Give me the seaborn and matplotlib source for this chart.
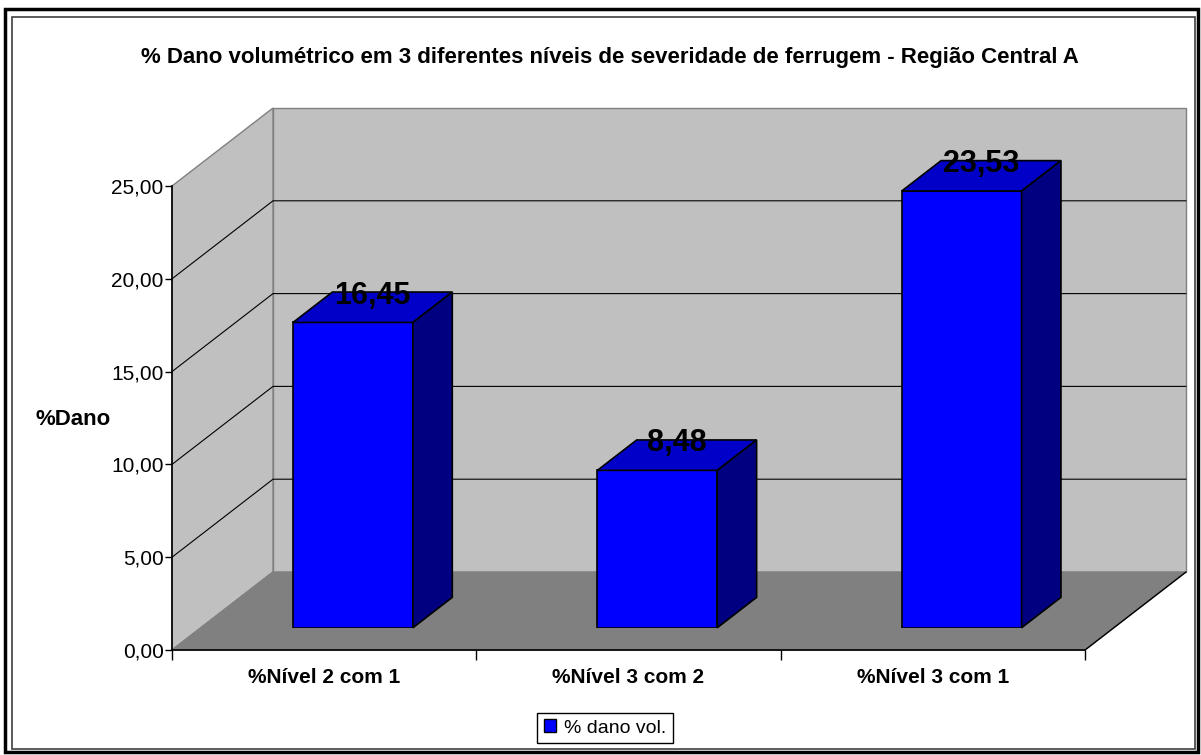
import numpy as np
import pandas as pd
import matplotlib
matplotlib.use('Agg')
import matplotlib.pyplot as plt
from matplotlib.patches import Polygon, Rectangle, Patch
from matplotlib.ticker import FixedLocator, FuncFormatter
import seaborn as sns

# Data
categories = ['%Nível 2 com 1', '%Nível 3 com 2', '%Nível 3 com 1']
values = [16.45, 8.48, 23.53]
y_ticks = [0, 5, 10, 15, 20, 25]
series_name = '% dano vol.'
title = '% Dano volumétrico em 3 diferentes níveis de severidade de ferrugem - Região Central A'
y_label = '%Dano'

df = pd.DataFrame({'nivel': categories, 'dano': values})

sns.set_style('white')
plt.rcParams['font.family'] = ['Liberation Sans', 'DejaVu Sans']
plt.rcParams['text.color'] = 'black'
plt.rcParams['xtick.color'] = 'black'
plt.rcParams['ytick.color'] = 'black'

W, H = 1201, 755
fig = plt.figure(figsize=(W / 100, H / 100), dpi=100)

# front plane of the 3D box in pixels
X0, X1, Y0, Y1 = 172, 1085, 650, 186
DEPTH_X, DEPTH_Y = 101, 78
n = len(categories)
ymax = y_ticks[-1]

ax = fig.add_axes([X0 / W, (H - Y0) / H, (X1 - X0) / W, (Y0 - Y1) / H])
ax.set_xlim(0, n)
ax.set_ylim(0, ymax)
ax.patch.set_alpha(0)

# depth vector in data units
ddx = DEPTH_X / ((X1 - X0) / n)
ddy = DEPTH_Y / ((Y0 - Y1) / ymax)

wall = '#C0C0C0'
floor = '#808080'
edge = '#808080'

ax.add_patch(Polygon([(ddx, ddy), (n + ddx, ddy), (n + ddx, ymax + ddy), (ddx, ymax + ddy)],
                     closed=True, facecolor=wall, edgecolor=edge, lw=1, clip_on=False, zorder=0))
ax.add_patch(Polygon([(0, 0), (ddx, ddy), (ddx, ymax + ddy), (0, ymax)],
                     closed=True, facecolor=wall, edgecolor=edge, lw=1, clip_on=False, zorder=0))
ax.add_patch(Polygon([(0, 0), (n, 0), (n + ddx, ddy), (ddx, ddy)],
                     closed=True, facecolor=floor, edgecolor=edge, lw=1, clip_on=False, zorder=0.5))
ax.plot([n, n + ddx], [0, ddy], color='black', lw=1, clip_on=False, zorder=1)

for t in y_ticks[1:-1]:
    ax.plot([0, ddx, n + ddx], [t, t + ddy, t + ddy], color='black', lw=0.8,
            clip_on=False, zorder=0.6)

for s in ['top', 'right']:
    ax.spines[s].set_visible(False)
for s in ['left', 'bottom']:
    ax.spines[s].set_color('black')
    ax.spines[s].set_linewidth(1.2)
    ax.spines[s].set_zorder(2)

ax.yaxis.set_major_locator(FixedLocator(y_ticks))
ax.yaxis.set_major_formatter(FuncFormatter(lambda v, p: f'{v:.2f}'.replace('.', ',')))
ax.tick_params(axis='y', direction='out', length=5, width=1, color='black',
               labelsize=15, pad=1, left=True, labelcolor='black')
ax.xaxis.set_major_locator(FixedLocator(np.arange(n + 1)))
ax.xaxis.set_minor_locator(FixedLocator(np.arange(n) + 0.5))
ax.xaxis.set_major_formatter(FuncFormatter(lambda v, p: ''))
ax.xaxis.set_minor_formatter(FuncFormatter(lambda v, p: categories[int(v)]))
ax.tick_params(axis='x', which='major', direction='out', length=7, width=1, color='black', bottom=True)
ax.tick_params(axis='x', which='minor', length=0, labelsize=15, pad=13, labelcolor='black')
for lab in ax.get_xticklabels(minor=True):
    lab.set_fontweight('bold')

# bars sit a little way into the box
front = 0.285
bar_depth = 0.39
ax2 = fig.add_axes([(X0 + front * DEPTH_X) / W, (H - Y0 + front * DEPTH_Y) / H,
                    (X1 - X0) / W, (Y0 - Y1) / H])
sns.barplot(data=df, x='nivel', y='dano', ax=ax2, color='#0000FF', saturation=1,
            width=0.394, edgecolor='black', linewidth=1.2)
ax2.set_xlim(-0.5, n - 0.5)
ax2.set_ylim(0, ymax)
ax2.axis('off')

bx, by = bar_depth * ddx, bar_depth * ddy
for p, v in zip(ax2.patches, values):
    x, w, h = p.get_x(), p.get_width(), p.get_height()
    ax2.add_patch(Polygon([(x, h), (x + w, h), (x + w + bx, h + by), (x + bx, h + by)],
                          closed=True, facecolor='#0000C8', edgecolor='black', lw=1.2, clip_on=False))
    ax2.add_patch(Polygon([(x + w, 0), (x + w + bx, by), (x + w + bx, h + by), (x + w, h)],
                          closed=True, facecolor='#000080', edgecolor='black', lw=1.2, clip_on=False))
    ax2.text(x + w / 2 + bx / 2, h + by / 2 + 0.2, f'{v:.2f}'.replace('.', ','),
             ha='center', va='baseline', fontsize=22, fontweight='bold', color='black', clip_on=False)

fig.text(610 / W, 1 - 57 / H, title, ha='center', va='center', fontsize=16, fontweight='bold')
fig.text(73 / W, 1 - 420 / H, y_label, ha='center', va='center', fontsize=16, fontweight='bold')

fig.legend(handles=[Patch(facecolor='#0000FF', edgecolor='black', label=series_name)],
           loc='center', bbox_to_anchor=(605 / W, 1 - 728 / H), frameon=True, fancybox=False,
           edgecolor='black', fontsize=14, handlelength=0.6, handleheight=0.6,
           handletextpad=0.4, borderpad=0.35, framealpha=1)

fig.add_artist(Rectangle((5 / W, 1 - 752 / H), 1193 / W, 743 / H, transform=fig.transFigure,
                         fill=False, edgecolor='black', lw=2.5))
fig.add_artist(Rectangle((12 / W, 1 - 749 / H), 1183 / W, 732 / H, transform=fig.transFigure,
                         fill=False, edgecolor='#404040', lw=1.2))

fig.savefig('out.png', dpi=100)
